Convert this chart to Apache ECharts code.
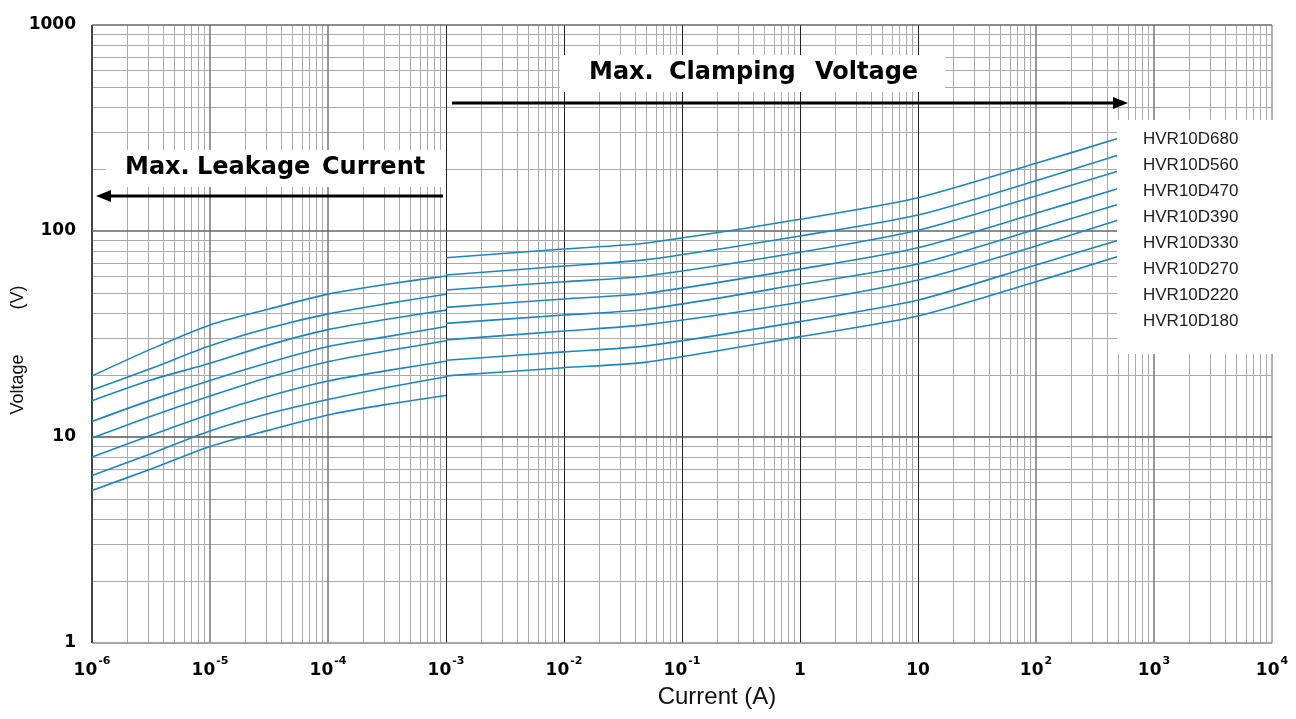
<!DOCTYPE html>
<html><head><meta charset="utf-8">
<script src="https://cdn.jsdelivr.net/npm/echarts@6/dist/echarts.min.js"></script>
<style>html,body{margin:0;padding:0;background:#fff}#c{width:1296px;height:719px}</style>
</head><body><div id="c"></div>
<script>
// ---------- data ----------
const seriesNames = ['HVR10D680','HVR10D560','HVR10D470','HVR10D390','HVR10D330','HVR10D270','HVR10D220','HVR10D180'];
// Max. leakage current region (current in A)
const leakCurrent = [1e-6, 3.16e-6, 1e-5, 3.16e-5, 1e-4, 3.16e-4, 1e-3];
const leak680 = [19.8, 26.7, 35.0, 41.8, 49.4, 55.1, 60.5];
const leak560 = [16.9, 21.5, 27.7, 33.8, 39.6, 44.4, 49.3];
const leak470 = [15.0, 18.9, 22.8, 28.0, 33.2, 37.3, 41.3];
const leak390 = [11.9, 15.1, 18.8, 23.0, 27.5, 30.7, 34.4];
const leak330 = [9.9, 12.6, 15.8, 19.5, 23.2, 26.2, 29.3];
const leak270 = [8.0, 10.2, 12.9, 15.8, 18.7, 21.0, 23.3];
const leak220 = [6.5, 8.3, 10.7, 13.0, 15.2, 17.4, 19.6];
const leak180 = [5.5, 7.0, 9.0, 10.8, 12.8, 14.4, 15.9];
// Max. clamping voltage region (current in A)
const clampCurrent = [1e-3, 1e-2, 0.05, 1, 10, 100, 500];
const clamp680 = [74.2, 81.8, 87.5, 114, 145, 213, 282];
const clamp560 = [61.1, 67.6, 72.6, 94.6, 119.6, 175.4, 234];
const clamp470 = [51.7, 56.7, 60.5, 78.8, 100.8, 147.9, 195.5];
const clamp390 = [42.6, 46.8, 49.9, 65.4, 83, 121.9, 161];
const clamp330 = [35.6, 39.1, 41.7, 55.1, 69.2, 101.9, 135];
const clamp270 = [29.6, 32.7, 35.1, 45.1, 57.8, 84.6, 113];
const clamp220 = [23.6, 25.9, 27.7, 36.3, 46.2, 68.4, 90.2];
const clamp180 = [19.8, 21.7, 23.1, 30.7, 38.7, 56.7, 75.4];
const xTickExponents = [-6, -5, -4, -3, -2, -1, 0, 1, 2, 3, 4];
const yTickLabels = ['1', '10', '100', '1000'];

const leakSets = [leak680, leak560, leak470, leak390, leak330, leak270, leak220, leak180];
const clampSets = [clamp680, clamp560, clamp470, clamp390, clamp330, clamp270, clamp220, clamp180];

// ---------- grid line values (log paper) ----------
const xMinor = [], yMinor = [];
for (let e = -6; e < 4; e++) for (let m = 2; m <= 9; m++) xMinor.push(m * Math.pow(10, e));
for (let e = 0; e < 3; e++) for (let m = 2; m <= 9; m++) yMinor.push(m * Math.pow(10, e));
const xMajorStyle = {'-6': ['#444', 2], '-5': ['#777', 1.5], '-4': ['#777', 1.5], '-3': ['#222', 1], '-2': ['#222', 1], '-1': ['#222', 1], '0': ['#222', 1], '1': ['#222', 1], '2': ['#777', 1.5], '3': ['#777', 1.5], '4': ['#999', 1.5]};
const yMajorStyle = {'0': ['#888', 1.5], '1': ['#555', 1.5], '2': ['#666', 1.5], '3': ['#666', 1.5]};

const minorLines = xMinor.map(v => ({xAxis: v})).concat(yMinor.map(v => ({yAxis: v})));
const majorLines = xTickExponents.map(e => ({xAxis: Math.pow(10, e), lineStyle: {color: xMajorStyle[e][0], width: xMajorStyle[e][1]}}))
  .concat([0, 1, 2, 3].map(e => ({yAxis: Math.pow(10, e), lineStyle: {color: yMajorStyle[e][0], width: yMajorStyle[e][1]}})));

const lineColor = '#1a86c8';
const dataSeries = seriesNames.map((name, i) => {
  const pts = leakCurrent.map((x, j) => [x, leakSets[i][j]]);
  pts.push([1e-3, '-']);
  clampCurrent.forEach((x, j) => pts.push([x, clampSets[i][j]]));
  return {
    name, type: 'line', data: pts, smooth: 0.25, showSymbol: false, symbol: 'none',
    connectNulls: false, z: 5, silent: true,
    lineStyle: {color: lineColor, width: 1.6}, itemStyle: {color: lineColor},
    emphasis: {disabled: true}, animation: false
  };
});

const boldFont = '"DejaVu Sans", sans-serif';

const option = {
  animation: false,
  backgroundColor: '#fff',
  grid: {left: 92, right: 24, top: 25, bottom: 76, containLabel: false},
  xAxis: {
    type: 'log', logBase: 10, min: 1e-6, max: 1e4, interval: 1,
    axisLine: {show: false}, axisTick: {show: false}, splitLine: {show: false},
    axisLabel: {
      margin: 13, hideOverlap: false, showMinLabel: true, showMaxLabel: true,
      formatter: v => {
        const e = Math.round(Math.log10(v));
        if (e === 0) return '{b|1}';
        if (e === 1) return '{b|10}';
        return '{b|10}{s|' + (e < 0 ? '-' : '') + Math.abs(e) + '}';
      },
      rich: {
        b: {fontFamily: boldFont, fontWeight: 'bold', fontSize: 17, color: '#000', verticalAlign: 'bottom', padding: [6, 0, 0, 0]},
        s: {fontFamily: boldFont, fontWeight: 'bold', fontSize: 11, color: '#000', verticalAlign: 'top', padding: [0, 0, 12, 1]}
      }
    }
  },
  yAxis: {
    type: 'log', logBase: 10, min: 1, max: 1000, interval: 1,
    axisLine: {show: false}, axisTick: {show: false}, splitLine: {show: false},
    axisLabel: {
      margin: 16, fontFamily: boldFont, fontWeight: 'bold', fontSize: 17, color: '#000',
      formatter: v => yTickLabels[Math.round(Math.log10(v))]
    }
  },
  legend: {
    orient: 'vertical', left: 1117, top: 120,
    data: seriesNames, icon: 'rect', itemWidth: 0, itemHeight: 0, itemGap: 0,
    backgroundColor: '#fff', padding: [6, 60, 20, 21], selectedMode: false, z: 20,
    textStyle: {fontFamily: '"Liberation Sans", Arial, sans-serif', fontSize: 17, color: '#222', lineHeight: 26}
  },
  series: [
    {type: 'line', data: [], z: 1, silent: true,
      markLine: {silent: true, precision: 12, symbol: ['none', 'none'], label: {show: false}, animation: false,
        lineStyle: {type: 'solid', color: '#aaaaaa', width: 1}, emphasis: {disabled: true}, data: minorLines}},
    {type: 'line', data: [], z: 2, silent: true,
      markLine: {silent: true, precision: 12, symbol: ['none', 'none'], label: {show: false}, animation: false,
        lineStyle: {type: 'solid', color: '#444', width: 1}, emphasis: {disabled: true}, data: majorLines}}
  ].concat(dataSeries),
  graphic: {elements: [
    {type: 'rect', z: 30, shape: {x: 560, y: 55, width: 385, height: 37}, style: {fill: '#fff'}},
    {type: 'text', z: 31, x: 589, y: 73, style: {text: 'Max.', font: 'bold 24px ' + boldFont, fill: '#000', verticalAlign: 'middle'}},
    {type: 'text', z: 31, x: 669, y: 73, style: {text: 'Clamping', font: 'bold 24px ' + boldFont, fill: '#000', verticalAlign: 'middle'}},
    {type: 'text', z: 31, x: 815, y: 73, style: {text: 'Voltage', font: 'bold 24px ' + boldFont, fill: '#000', verticalAlign: 'middle'}},
    {type: 'line', z: 31, shape: {x1: 452, y1: 103, x2: 1116, y2: 103}, style: {stroke: '#000', lineWidth: 3}},
    {type: 'polygon', z: 31, shape: {points: [[1128, 103], [1113, 97], [1113, 109]]}, style: {fill: '#000'}},
    {type: 'rect', z: 30, shape: {x: 106, y: 150, width: 339, height: 37}, style: {fill: '#fff'}},
    {type: 'text', z: 31, x: 125, y: 168, style: {text: 'Max.', font: 'bold 24px ' + boldFont, fill: '#000', verticalAlign: 'middle'}},
    {type: 'text', z: 31, x: 197, y: 168, style: {text: 'Leakage', font: 'bold 24px ' + boldFont, fill: '#000', verticalAlign: 'middle'}},
    {type: 'text', z: 31, x: 322, y: 168, style: {text: 'Current', font: 'bold 24px ' + boldFont, fill: '#000', verticalAlign: 'middle'}},
    {type: 'line', z: 31, shape: {x1: 443, y1: 196, x2: 108, y2: 196}, style: {stroke: '#000', lineWidth: 3}},
    {type: 'polygon', z: 31, shape: {points: [[96, 196], [111, 190], [111, 202]]}, style: {fill: '#000'}},
    {type: 'text', z: 31, x: 717, y: 697, style: {text: 'Current (A)', font: '24px "Liberation Sans", Arial, sans-serif', fill: '#111', align: 'center', verticalAlign: 'middle'}},
    {type: 'text', z: 31, x: 18, y: 350, rotation: Math.PI / 2, style: {text: 'Voltage         (V)', font: '18px "Liberation Sans", Arial, sans-serif', fill: '#111', align: 'center', verticalAlign: 'middle'}}
  ]}
};
const chart = echarts.init(document.getElementById('c'), null, {renderer: 'canvas'});
chart.setOption(option);
</script></body></html>
